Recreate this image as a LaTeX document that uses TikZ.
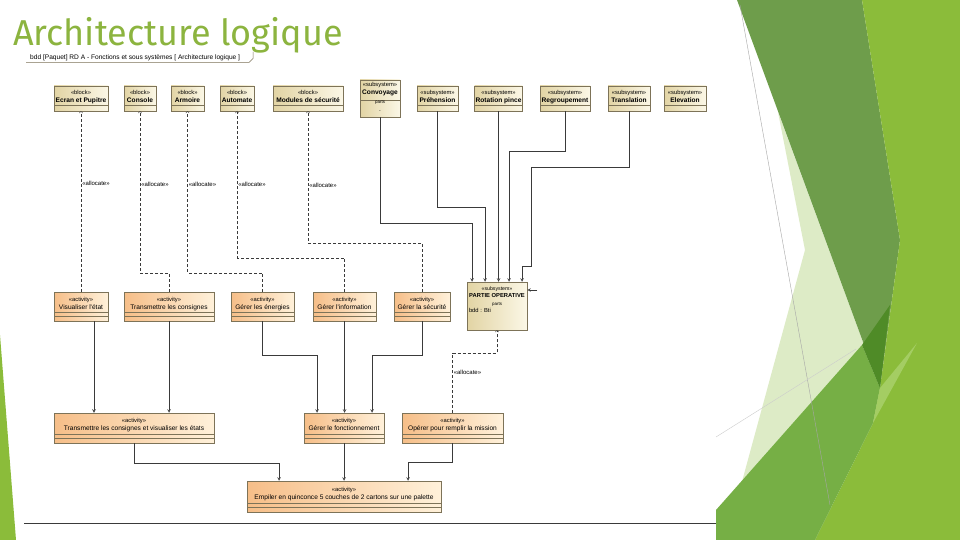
\documentclass[tikz,border=0pt]{standalone}
\usepackage{fontspec}
\usepackage{tikz}
\usetikzlibrary{arrows,shadows}
\newfontfamily\umlfont{Liberation Sans}
\newfontfamily\titlefont{Fira Sans}
\definecolor{titlegreen}{HTML}{8CB43F}
\definecolor{blkleft}{HTML}{E2D4A4}
\definecolor{blkright}{HTML}{FBF7E6}
\definecolor{actleft}{HTML}{F6BE88}
\definecolor{actright}{HTML}{FFF1DA}
\definecolor{umlline}{HTML}{7D7358}
\definecolor{wire}{HTML}{3A3A3A}
\definecolor{pale}{HTML}{DDEBC6}
\definecolor{band}{HTML}{6E9D4B}
\definecolor{bright}{HTML}{8BBC3A}
\definecolor{midgreen}{HTML}{76AF45}
\definecolor{deepgreen}{HTML}{4F8B27}
\definecolor{lightpatch}{HTML}{A4CD63}
\newcommand{\stereo}[1]{{\fontsize{5.8}{7}\selectfont «#1»}}
\begin{document}
\begin{tikzpicture}[x=1pt,y=-1pt,
  uml/.style={draw=umlline, line width=0.5pt, inner sep=1pt, align=center,
    font=\umlfont\fontsize{6.6}{7.8}\selectfont,
    drop shadow={shadow xshift=1pt,shadow yshift=-1pt,opacity=0.25}},
  blk/.style={uml, left color=blkleft, right color=blkright, minimum height=25pt,
    execute at end node={\rule[-4pt]{0pt}{4pt}},
    path picture={\draw[umlline,line width=0.4pt] ([yshift=6pt]path picture bounding box.south west) -- ([yshift=6pt]path picture bounding box.south east);}},
  act/.style={uml, left color=actleft, right color=actright, minimum height=29pt,
    execute at end node={\rule[-7pt]{0pt}{7pt}},
    path picture={\draw[umlline,line width=0.4pt] ([yshift=4.5pt]path picture bounding box.south west) -- ([yshift=4.5pt]path picture bounding box.south east)
      ([yshift=9pt]path picture bounding box.south west) -- ([yshift=9pt]path picture bounding box.south east);}},
  alloc/.style={draw=wire, line width=0.5pt, dash pattern=on 3pt off 2pt, ->, >=to},
  flow/.style={draw=wire, line width=0.6pt, ->, >=stealth},
  tag/.style={font=\umlfont\fontsize{6}{7}\selectfont, inner sep=1pt}]

\fill[white] (0,0) rectangle (960,540);
\useasboundingbox (0,0) rectangle (960,540);

\fill[pale] (778,112) -- (880,388) -- (737,500) -- (805,250) -- cycle;
\fill[band] (737,0) -- (862,0) -- (900,240) -- (880,388) -- cycle;
\fill[bright] (862,0) -- (960,0) -- (960,540) -- (815,540) -- (873,423) -- (880,388) -- (900,240) -- cycle;
\fill[midgreen] (716,540) -- (716,510) -- (862,345) -- (880,388) -- (873,423) -- (815,540) -- cycle;
\fill[deepgreen] (862,345) -- (890,305) -- (880,388) -- cycle;
\fill[lightpatch] (880,388) -- (917,343) -- (873,423) -- cycle;
\fill[bright] (0,335) -- (16,540) -- (0,540) -- cycle;
\draw[gray!70, line width=0.4pt] (740,5) -- (830,505);
\draw[gray!40, line width=0.4pt] (716,437) -- (856,349);

\node[anchor=west, inner sep=0, text=titlegreen, font=\titlefont\fontsize{36}{40}\selectfont] (title) at (13,35) {Architecture logique};

\node[anchor=west, inner sep=0, font=\umlfont\fontsize{6.6}{7.5}\selectfont] (hdr) at (30,57.5)
{bdd [Paquet] RD A - Fonctions et sous systèmes [ Architecture logique ]};
\draw[umlline, line width=0.5pt] (26,62.5) -- (249,62.5) -- (253,58.5) -- (253,52);
\draw[wire, line width=0.7pt] (24,523) -- (716,523);

\node[blk, minimum width=54] (b1) at (81,98.5) {\stereo{block}\\\textbf{Ecran et Pupitre}};
\node[blk, minimum width=32] (b2) at (140,98.5) {\stereo{block}\\\textbf{Console}};
\node[blk, minimum width=33] (b3) at (187.5,98.5) {\stereo{block}\\\textbf{Armoire}};
\node[blk, minimum width=34] (b4) at (237,98.5) {\stereo{block}\\\textbf{Automate}};
\node[blk, minimum width=70] (b5) at (308,98.5) {\stereo{block}\\\textbf{Modules de sécurité}};

\node[uml, left color=blkleft, right color=blkright, minimum width=40, minimum height=37,
  execute at end node={\rule[-3pt]{0pt}{3pt}},
  path picture={\draw[umlline,line width=0.4pt] ([yshift=17pt]path picture bounding box.south west) -- ([yshift=17pt]path picture bounding box.south east);}]
  (s1) at (380,98.5) {\stereo{subsystem}\\\textbf{Convoyage}\\[1pt]{\fontsize{4.5}{5.5}\selectfont parts}\\.};
\node[blk, minimum width=41] (s2) at (437.5,98.5) {\stereo{subsystem}\\\textbf{Préhension}};
\node[blk, minimum width=45] (s3) at (498.5,98.5) {\stereo{subsystem}\\\textbf{Rotation pince}};
\node[blk, minimum width=50] (s4) at (565,98.5) {\stereo{subsystem}\\\textbf{Regroupement}};
\node[blk, minimum width=42] (s5) at (629,98.5) {\stereo{subsystem}\\\textbf{Translation}};
\node[blk, minimum width=42] (s6) at (685,98.5) {\stereo{subsystem}\\\textbf{Elevation}};

\node[act, minimum width=54] (a1) at (81,306.5) {\stereo{activity}\\Visualiser l'état};
\node[act, minimum width=90] (a2) at (169,306.5) {\stereo{activity}\\Transmettre les consignes};
\node[act, minimum width=63] (a3) at (262.5,306.5) {\stereo{activity}\\Gérer les énergies};
\node[act, minimum width=63] (a4) at (344.5,306.5) {\stereo{activity}\\Gérer l'information};
\node[act, minimum width=56] (a5) at (422,306.5) {\stereo{activity}\\Gérer la sécurité};

\node[uml, left color=blkleft, right color=blkright, minimum width=60, minimum height=48,
  font=\umlfont\fontsize{5.8}{7}\selectfont,
  execute at end node={\rule[-13pt]{0pt}{13pt}}] (po) at (497,306)
  {{\fontsize{5.2}{6}\selectfont «subsystem»}\\\textbf{PARTIE OPERATIVE}\\[1pt]{\fontsize{4.5}{5}\selectfont parts}\\\makebox[56pt][l]{bdd : Bti}};

\node[act, minimum width=160, minimum height=30] (t1) at (134,428) {\stereo{activity}\\Transmettre les consignes et visualiser les états};
\node[act, minimum width=80, minimum height=30] (f) at (344,428) {\stereo{activity}\\Gérer le fonctionnement};
\node[act, minimum width=101, minimum height=30] (o) at (452.5,428) {\stereo{activity}\\Opérer pour remplir la mission};
\node[act, minimum width=194, minimum height=31] (e) at (344,496.5) {\stereo{activity}\\Empiler en quinconce 5 couches de 2 cartons sur une palette};

\draw[alloc] (a1.north) -- node[tag, pos=0.6, right] {«allocate»} (b1.south);
\draw[alloc] (a2.north) -- ++(0,-19) -| node[tag, pos=0.775, right] {«allocate»} (b2.south);
\draw[alloc] (a3.north) -- ++(0,-19) -| node[tag, pos=0.775, right] {«allocate»} (b3.south);
\draw[alloc] (a4.north) -- ++(0,-34) -| node[tag, pos=0.75, right] {«allocate»} (b4.south);
\draw[alloc] (a5.north) -- ++(0,-49) -| node[tag, pos=0.72, right] {«allocate»} (b5.south);
\draw[alloc] (o.north) -- node[tag, pos=0.67, right] {«allocate»} ++(0,-60) -| (po.south);

\draw[flow] (s1.south) -- ++(0,106) -| ([xshift=-25pt]po.north);
\draw[flow] (s2.south) -- ++(0,96) -| ([xshift=-12pt]po.north);
\draw[flow] (s3.south) -- (s3.south |- po.north);
\draw[flow] (s4.south) -- ++(0,40) -| ([xshift=12pt]po.north);
\draw[flow] (s5.south) -- ++(0,56) -| ++(-98,99) -| ([xshift=25pt]po.north);
\coordinate (pe) at (537,290);
\draw[flow] (pe) -- (po.east |- pe);

\draw[flow] ([xshift=13pt]a1.south) -- ([xshift=13pt]a1.south |- t1.north);
\draw[flow] (a2.south) -- (a2.south |- t1.north);
\draw[flow] (a3.south) -- ++(0,34) -| ([xshift=-27pt]f.north);
\draw[flow] (a4.south) -- (a4.south |- f.north);
\draw[flow] (a5.south) -- ++(0,34) -| ([xshift=28pt]f.north);

\draw[flow] (t1.south) -- ++(0,20) -| ([xshift=-65pt]e.north);
\draw[flow] (f.south) -- (e.north);
\draw[flow] (o.south) -- ++(0,19) -| ([xshift=64pt]e.north);

\end{tikzpicture}
\end{document}
